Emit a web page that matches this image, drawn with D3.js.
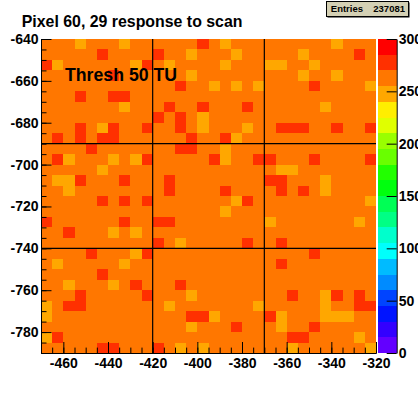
<!DOCTYPE html>
<html><head><meta charset="utf-8">
<script src="https://cdn.jsdelivr.net/npm/d3@7"></script>
<style>
body{margin:0;background:#fff;}
svg text{font-family:"Liberation Sans",Arial,Helvetica,sans-serif;font-weight:bold;fill:#000;}
</style>
</head><body>
<svg id="c" width="418" height="393"></svg>
<script>
// ---------- data ----------
const titleText = "Pixel 60, 29 response to scan";
const noteText = "Thresh 50 TU";
const statLabel = "Entries";
const statValue = 237081;
const xRange = [-470, -320];
const yRange = [-790, -640];
const binSize = 5;
const xTicks = [-460, -440, -420, -400, -380, -360, -340, -320];
const yTicks = [-640, -660, -680, -700, -720, -740, -760, -780];
const zTicks = [0, 50, 100, 150, 200, 250, 300];
const zRange = [0, 300];
const nLevels = 20;
const chipLinesX = [-420, -370];
const chipLinesY = [-690, -740];
// counts per bin, rows from top (y = -640) downwards, columns from x = -470
const counts = [
[262,262,262,248,262,262,262,248,262,262, 262,262,262,262,277,262,248,262,262,262, 262,262,262,262,262,262,248,262,262,262],
[262,262,262,262,262,277,262,262,262,262, 277,262,262,248,262,262,262,248,262,262, 262,262,262,248,262,262,262,262,277,262],
[277,248,262,262,262,262,262,262,248,277, 262,248,262,262,262,262,248,262,262,262, 248,248,262,262,248,262,262,262,262,262],
[262,262,262,262,262,262,277,262,262,262, 262,262,262,248,262,262,262,262,262,262, 262,262,262,248,262,262,248,262,262,262],
[262,262,262,262,262,262,262,262,262,262, 262,262,277,262,262,248,262,248,262,248, 262,262,262,262,277,262,262,262,262,248],
[262,262,262,277,262,262,277,277,262,262, 262,262,262,262,262,262,262,262,262,262, 262,262,262,262,262,262,262,262,262,262],
[262,262,262,262,262,262,262,248,262,262, 262,277,262,262,277,262,262,262,277,262, 262,262,262,262,262,248,262,262,262,262],
[262,262,262,262,262,262,262,262,262,262, 277,262,277,262,248,262,262,262,262,262, 262,262,262,262,262,262,262,262,262,262],
[262,262,262,277,262,248,277,262,262,277, 262,262,277,262,248,262,262,262,248,262, 262,277,277,277,262,262,277,262,262,277],
[262,277,262,277,262,277,277,262,262,262, 262,262,262,277,262,262,277,248,262,262, 262,262,262,262,262,262,262,262,262,262],
[262,262,262,262,277,262,262,262,262,262, 262,262,277,277,262,262,248,262,262,262, 262,262,262,262,262,262,262,262,262,262],
[262,277,248,262,262,262,248,262,248,277, 262,262,262,262,262,277,248,262,262,277, 277,262,262,262,277,262,262,262,262,277],
[262,262,262,262,262,248,262,262,262,262, 262,262,262,262,262,262,262,262,262,262, 262,248,248,262,262,262,262,262,262,262],
[262,248,248,277,262,262,262,277,262,262, 262,277,262,262,262,262,262,262,262,262, 277,277,262,262,262,248,262,262,262,262],
[262,262,248,262,262,262,262,262,262,262, 262,277,262,262,262,262,277,262,262,262, 262,277,262,277,262,248,262,262,262,262],
[262,262,262,262,262,277,262,277,262,277, 262,262,262,262,262,262,262,248,277,262, 262,262,262,262,262,262,262,262,262,248],
[262,262,262,262,262,262,262,262,262,262, 262,262,262,262,262,262,248,262,262,262, 262,262,262,262,262,262,262,262,262,262],
[277,262,262,262,262,262,262,277,262,262, 277,277,262,262,262,262,262,262,262,262, 248,262,262,262,262,262,262,262,248,262],
[262,262,277,262,262,262,248,262,248,262, 262,262,262,262,262,262,262,262,262,262, 262,262,262,262,262,262,262,262,262,262],
[262,262,262,262,262,262,262,262,262,262, 277,262,248,262,262,262,262,262,277,262, 262,277,262,262,262,262,262,262,262,262],
[262,262,262,262,277,262,262,262,248,277, 262,262,262,262,262,262,262,262,262,262, 262,262,262,262,277,262,262,262,262,262],
[262,248,262,262,262,262,262,248,262,262, 262,262,262,262,262,262,262,262,262,262, 262,277,262,262,262,262,262,262,262,262],
[262,262,262,262,262,277,262,262,262,262, 262,262,262,262,262,262,262,262,262,262, 262,262,262,262,262,262,262,262,262,262],
[262,262,248,262,262,262,248,262,277,262, 262,262,277,262,262,262,262,262,262,262, 262,262,262,262,262,262,262,262,262,262],
[262,262,262,277,262,262,262,262,262,277, 262,262,262,248,262,262,262,262,262,262, 262,262,277,262,262,248,277,262,277,262],
[248,262,277,277,262,262,262,262,262,262, 262,248,262,262,262,262,262,262,262,248, 262,262,262,262,262,248,262,262,277,277],
[248,262,262,262,262,262,262,262,262,262, 262,262,262,277,277,248,262,262,262,262, 277,248,262,262,262,248,248,248,262,262],
[262,262,262,262,262,262,262,262,262,262, 262,262,262,248,262,262,262,277,262,262, 262,248,262,262,277,262,262,262,262,262],
[248,277,262,262,262,262,262,262,262,262, 262,262,262,262,262,262,262,262,262,262, 262,262,277,277,262,262,262,262,248,262],
[262,262,262,262,262,277,277,262,262,262, 277,262,248,262,248,262,262,262,262,262, 262,262,248,262,262,262,262,262,262,248]
];

// ---------- layout ----------
const svg = d3.select("#c");
const plot = {left: 41, right: 376, top: 39, bottom: 353};
const pal = {left: 377.7, right: 396.7};

const x = d3.scaleLinear().domain(xRange).range([plot.left, plot.right]);
const y = d3.scaleLinear().domain(yRange).range([plot.bottom, plot.top]);
const z = d3.scaleLinear().domain(zRange).range([plot.bottom, plot.top]);

// ROOT "pretty palette": 50 hues violet->red, 20 contour levels
function levelColor(k) {
  const idx = Math.floor((k + 0.99) * 50 / nLevels);
  const hue = 280 - (idx + 1) * (280 / 50);
  return d3.hsl(hue, 1, 0.5).formatHex();
}
const levelStep = (zRange[1] - zRange[0]) / nLevels;
function colorOf(v) {
  let k = Math.floor((v - zRange[0]) / levelStep);
  k = Math.max(0, Math.min(nLevels - 1, k));
  return levelColor(k);
}

// cells
const cells = [];
counts.forEach((row, r) => row.forEach((v, c) => {
  cells.push({x0: xRange[0] + c * binSize, y1: yRange[1] - r * binSize, v});
}));
svg.append("g").attr("shape-rendering", "crispEdges")
  .selectAll("rect").data(cells).join("rect")
  .attr("x", d => x(d.x0))
  .attr("y", d => y(d.y1))
  .attr("width", d => x(d.x0 + binSize) - x(d.x0))
  .attr("height", d => y(d.y1 - binSize) - y(d.y1))
  .attr("fill", d => colorOf(d.v));

// chip boundary lines
svg.append("g").selectAll("line.vx").data(chipLinesX).join("line")
  .attr("x1", d => x(d)).attr("x2", d => x(d))
  .attr("y1", plot.top).attr("y2", plot.bottom)
  .attr("stroke", "#000").attr("stroke-width", 1.2);
svg.append("g").selectAll("line.hy").data(chipLinesY).join("line")
  .attr("y1", d => y(d)).attr("y2", d => y(d))
  .attr("x1", plot.left).attr("x2", plot.right)
  .attr("stroke", "#000").attr("stroke-width", 1.2);

// axes
function styleAxis(g) {
  g.attr("font-family", null).attr("font-size", null);
  g.selectAll("text").style("font-size", "14px");
  g.selectAll("path,line").attr("stroke", "#000");
}
const minorX = d3.range(xRange[0], xRange[1] + 0.001, binSize);
const minorY = d3.range(yRange[0], yRange[1] + 0.001, binSize);

svg.append("g").attr("transform", `translate(0,${plot.bottom})`)
  .call(d3.axisBottom(x).tickValues(minorX).tickSizeInner(-5.4).tickSizeOuter(0).tickFormat(""))
  .call(g => g.selectAll("path,line").attr("stroke", "#000"));
svg.append("g").attr("transform", `translate(0,${plot.bottom})`)
  .call(d3.axisBottom(x).tickValues(xTicks).tickSizeInner(-11).tickSizeOuter(0).tickPadding(5).tickFormat(d3.format("d")))
  .call(styleAxis)
  .call(g => g.selectAll("text").text(d => String(d)));

svg.append("g").attr("transform", `translate(${plot.left},0)`)
  .call(d3.axisLeft(y).tickValues(minorY).tickSizeInner(-5.5).tickSizeOuter(0).tickFormat(""))
  .call(g => g.selectAll("path,line").attr("stroke", "#000"));
svg.append("g").attr("transform", `translate(${plot.left},0)`)
  .call(d3.axisLeft(y).tickValues(yTicks).tickSizeInner(-10.5).tickSizeOuter(0).tickPadding(2.5))
  .call(styleAxis)
  .call(g => g.selectAll("text").text(d => String(d)));

// palette
const levels = d3.range(nLevels);
svg.append("g").attr("shape-rendering", "crispEdges")
  .selectAll("rect").data(levels).join("rect")
  .attr("x", pal.left)
  .attr("width", pal.right - pal.left)
  .attr("y", k => z(zRange[0] + (k + 1) * levelStep))
  .attr("height", k => z(zRange[0] + k * levelStep) - z(zRange[0] + (k + 1) * levelStep))
  .attr("fill", k => levelColor(k));
svg.append("g").attr("transform", `translate(${pal.right},0)`)
  .call(d3.axisRight(z).tickValues(zTicks).tickSizeInner(-10).tickSizeOuter(0).tickPadding(2))
  .call(styleAxis)
  .call(g => g.selectAll("text").text(d => String(d)));

// title
svg.append("text").attr("x", 21.7).attr("y", 26.5)
  .style("font-size", "15.9px").text(titleText);

// note
svg.append("text").attr("x", 65).attr("y", 81)
  .style("font-size", "17.7px").text(noteText);

// stats box
const sb = {x: 326.5, y: 1.5, w: 82, h: 15};
svg.append("rect").attr("x", sb.x + 1).attr("y", sb.y + 1).attr("width", sb.w).attr("height", sb.h).attr("fill", "#000");
svg.append("rect").attr("x", sb.x).attr("y", sb.y).attr("width", sb.w).attr("height", sb.h)
  .attr("fill", "#d4d0b4").attr("stroke", "#000").attr("stroke-width", 1);
svg.append("text").attr("x", sb.x + 4.3).attr("y", 12.3).style("font-size", "9.5px").text(statLabel);
svg.append("text").attr("x", sb.x + sb.w - 3.5).attr("y", 12.3).attr("text-anchor", "end")
  .style("font-size", "9.5px").text(String(statValue));
</script>
</body></html>
